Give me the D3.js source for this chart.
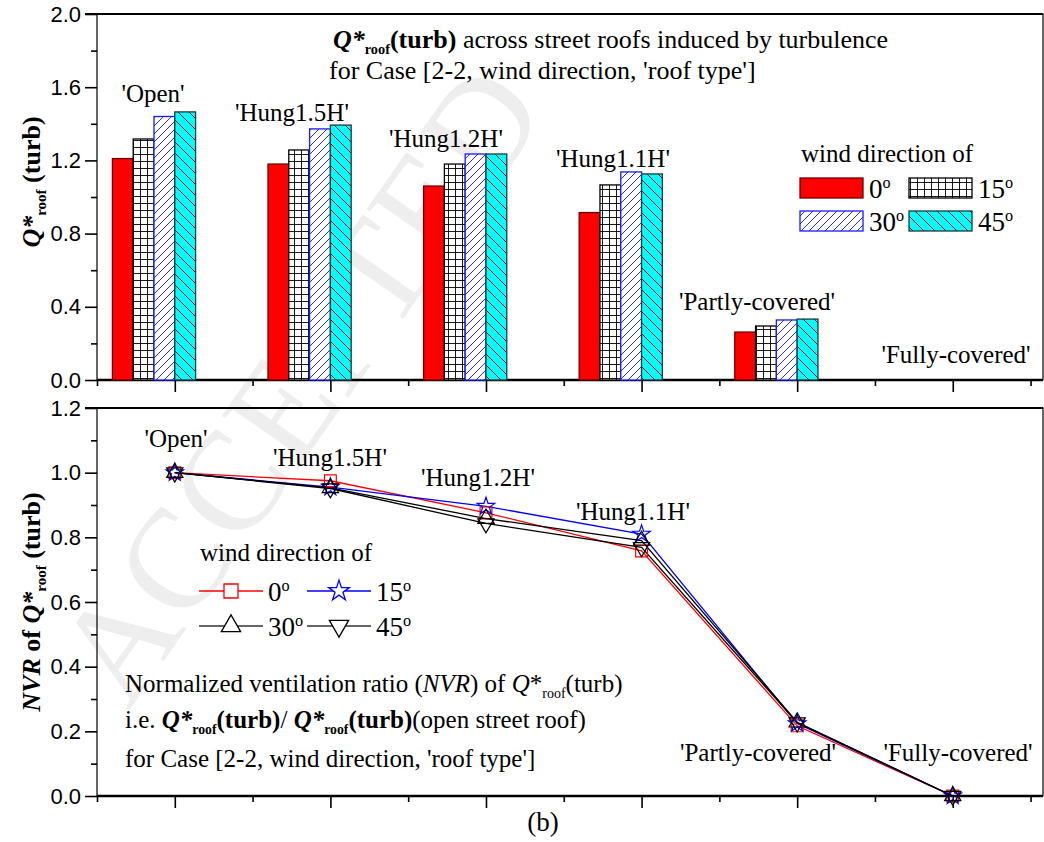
<!DOCTYPE html>
<html>
<head>
<meta charset="utf-8">
<script src="https://cdn.jsdelivr.net/npm/d3@7"></script>
<style>
  body { margin: 0; background: #fff; }
  svg { display: block; }
</style>
</head>
<body>
<div id="chart"></div>
<script>
const width = 1044;
const height = 842;
const serifFont = "'Liberation Serif', 'Times New Roman', serif";
const sansFont = "'Liberation Sans', Arial, sans-serif";

// roof types along the x axis
const roofTypes = ["'Open'", "'Hung1.5H'", "'Hung1.2H'", "'Hung1.1H'", "'Partly-covered'", "'Fully-covered'"];
const windDirections = ['0', '15', '30', '45'];

// Q*roof(turb), top panel
const qTurb0 = [1.21, 1.18, 1.06, 0.915, 0.262, 0];
const qTurb15 = [1.317, 1.257, 1.18, 1.066, 0.295, 0];
const qTurb30 = [1.44, 1.372, 1.235, 1.137, 0.328, 0];
const qTurb45 = [1.465, 1.393, 1.235, 1.126, 0.333, 0];

// NVR of Q*roof(turb), bottom panel
const nvr0 = [1.0, 0.975, 0.876, 0.758, 0.217, 0];
const nvr15 = [1.0, 0.955, 0.896, 0.81, 0.224, 0];
const nvr30 = [1.0, 0.953, 0.858, 0.79, 0.228, 0];
const nvr45 = [1.0, 0.951, 0.843, 0.769, 0.227, 0];

const topTicks = [0.0, 0.4, 0.8, 1.2, 1.6, 2.0];
const bottomTicks = [0.0, 0.2, 0.4, 0.6, 0.8, 1.0, 1.2];

const svg = d3.select('#chart')
  .append('svg')
  .attr('width', width)
  .attr('height', height);

// patterns for the bar fills
const defs = svg.append('defs');

function addPattern(id, size, bg, draw) {
  const p = defs.append('pattern')
    .attr('id', id)
    .attr('patternUnits', 'userSpaceOnUse')
    .attr('width', size)
    .attr('height', size);
  p.append('rect').attr('width', size).attr('height', size).attr('fill', bg);
  draw(p, size);
}

addPattern('grid', 7, '#fff', (p, s) => {
  p.append('path').attr('d', 'M0,0.5H' + s + 'M0.5,0V' + s)
    .attr('stroke', '#000').attr('stroke-width', 0.9).attr('fill', 'none');
});
addPattern('hatchBlue', 8, '#fff', (p, s) => {
  p.append('path').attr('d', 'M0,' + s + 'L' + s + ',0M-2,2L2,-2M' + (s - 2) + ',' + (s + 2) + 'L' + (s + 2) + ',' + (s - 2))
    .attr('stroke', '#2a2aff').attr('stroke-width', 1).attr('fill', 'none');
});
addPattern('hatchCyan', 11, '#00ffff', (p, s) => {
  p.append('path').attr('d', 'M0,0L' + s + ',' + s + 'M-2,' + (s - 2) + 'L2,' + (s + 2) + 'M' + (s - 2) + ',-2L' + (s + 2) + ',2')
    .attr('stroke', '#000').attr('stroke-width', 1).attr('fill', 'none');
});

const barStyles = [
  {fill: '#ff0000', stroke: '#6b0000'},
  {fill: 'url(#grid)', stroke: '#000'},
  {fill: 'url(#hatchBlue)', stroke: '#1a1aff'},
  {fill: 'url(#hatchCyan)', stroke: '#1b3b3b'}
];

const lineStyles = [
  {color: '#ff0000', symbol: d3.symbolSquare, size: 140, rotate: 0},
  {color: '#0000ff', symbol: d3.symbolStar, size: 95, rotate: 0},
  {color: '#000', symbol: d3.symbolTriangle, size: 115, rotate: 0},
  {color: '#000', symbol: d3.symbolTriangle, size: 115, rotate: 180}
];

function serifText(parent, x, y, size) {
  return parent.append('text')
    .attr('x', x).attr('y', y)
    .style('font-family', serifFont)
    .style('font-size', size + 'px');
}

// watermark behind everything
svg.append('text')
  .attr('transform', 'translate(128,712) rotate(-55)')
  .style('font-family', serifFont)
  .style('font-size', '142px')
  .attr('fill', '#eeeeee')
  .text('ACCEPTED');

// shared x scale
const xscale = d3.scaleLinear().domain([0.5, 6.58]).range([97, 1043]);
const majorX = d3.range(1, 7);
const minorX = d3.range(0.5, 7, 1);

function drawFrame(g, yscale, ticks, minorStep) {
  const [y0, y1] = yscale.range();
  const [xl, xr] = xscale.range();
  // frame
  g.append('path')
    .attr('d', 'M' + xl + ',' + y0 + 'V' + y1 + 'H' + xr + 'V' + y0)
    .attr('fill', 'none').attr('stroke', '#000').attr('stroke-width', 1.2);
  g.append('line')
    .attr('x1', xl - 12).attr('x2', xr)
    .attr('y1', y1).attr('y2', y1).attr('stroke', '#000').attr('stroke-width', 2);

  // y axis
  const yaxis = d3.axisLeft(yscale).tickValues(ticks).tickSize(12).tickFormat(d3.format('.1f'));
  const ya = g.append('g')
    .attr('transform', 'translate(' + xl + ',0)')
    .call(yaxis);
  ya.select('.domain').remove();
  ya.selectAll('line').attr('stroke-width', 1.6);
  ya.selectAll('text')
    .style('font-family', sansFont)
    .style('font-size', '22px')
    .attr('dx', -1);

  const minorY = d3.range(yscale.domain()[0] + minorStep, yscale.domain()[1], minorStep * 2);
  g.append('g')
    .attr('transform', 'translate(' + xl + ',0)')
    .call(d3.axisLeft(yscale).tickValues(minorY).tickSize(6).tickFormat(''))
    .call(s => s.select('.domain').remove())
    .selectAll('line').attr('stroke-width', 1.6);

  // x axis, ticks only
  const xg = g.append('g').attr('transform', 'translate(0,' + y0 + ')');
  xg.call(d3.axisBottom(xscale).tickValues(majorX).tickSize(12).tickFormat(''))
    .call(s => s.select('.domain').attr('stroke-width', 2.5).attr('d', 'M' + xl + ',0H' + xr));
  xg.selectAll('line').attr('stroke-width', 1.6);
  g.append('g').attr('transform', 'translate(0,' + y0 + ')')
    .call(d3.axisBottom(xscale).tickValues(minorX).tickSize(6).tickFormat(''))
    .call(s => s.select('.domain').remove())
    .selectAll('line').attr('stroke-width', 1.6);
}

function degreeText(sel, value, size) {
  sel.append('tspan').text(value);
  sel.append('tspan').style('font-size', (size * 0.6) + 'px').attr('dy', -size * 0.38).text('o');
}

// Q*roof(turb) with subscript
function qRoof(sel, size, bold) {
  sel.append('tspan').attr('font-style', 'italic').attr('font-weight', 'bold').text('Q*');
  sel.append('tspan').style('font-size', (size * 0.55) + 'px').attr('dy', size * 0.23)
    .attr('font-weight', bold ? 'bold' : 'normal').text('roof');
  sel.append('tspan').attr('dy', -size * 0.23).attr('font-weight', bold ? 'bold' : 'normal').text('(turb)');
}

// ---------- top panel: bars ----------
const yTop = d3.scaleLinear().domain([0, 2]).range([380, 14]);
const topPanel = svg.append('g');
drawFrame(topPanel, yTop, topTicks, 0.2);

const barWidth = 20.8;
const offset = d3.scaleBand().domain(windDirections).range([-3 * barWidth, barWidth]);
const barSeries = [qTurb0, qTurb15, qTurb30, qTurb45];

roofTypes.forEach((roof, i) => {
  barSeries.forEach((series, k) => {
    const v = series[i];
    if (v <= 0) return;
    topPanel.append('rect')
      .attr('x', xscale(i + 1) + offset(windDirections[k]))
      .attr('y', yTop(v))
      .attr('width', offset.bandwidth())
      .attr('height', yTop(0) - yTop(v))
      .attr('fill', barStyles[k].fill)
      .attr('stroke', barStyles[k].stroke)
      .attr('stroke-width', 1.3);
  });
});

// category labels over the bar groups
const topLabelPos = [[153, 102], [292, 121], [446, 147], [613, 167], [757, 310], [956, 363]];
roofTypes.forEach((roof, i) => {
  serifText(topPanel, topLabelPos[i][0], topLabelPos[i][1], 25)
    .attr('text-anchor', 'middle')
    .text(roof);
});

// title
const t1 = serifText(topPanel, 333, 48, 26);
qRoof(t1, 26, true);
t1.append('tspan').text(' across street roofs induced by turbulence');
serifText(topPanel, 329, 79, 26).text("for Case [2-2, wind direction, 'roof type']");

// legend
serifText(topPanel, 801, 162, 25).text('wind direction of');
const barLegend = [[800, 178], [909, 178], [800, 211], [909, 211]];
windDirections.forEach((w, k) => {
  const [lx, ly] = barLegend[k];
  topPanel.append('rect')
    .attr('x', lx).attr('y', ly).attr('width', 63).attr('height', 20)
    .attr('fill', barStyles[k].fill).attr('stroke', barStyles[k].stroke).attr('stroke-width', 1.3);
  const t = serifText(topPanel, lx + 69, ly + 20, 27);
  degreeText(t, w, 27);
});

// y title
const yt1 = serifText(topPanel, 0, 0, 26)
  .attr('transform', 'translate(40,182) rotate(-90)')
  .attr('text-anchor', 'middle').attr('font-weight', 'bold');
yt1.append('tspan').attr('font-style', 'italic').text('Q*');
yt1.append('tspan').style('font-size', '15px').attr('dy', 6).text('roof');
yt1.append('tspan').attr('dy', -6).text(' (turb)');

// ---------- bottom panel: lines ----------
const yBot = d3.scaleLinear().domain([0, 1.2]).range([796, 408]);
const botPanel = svg.append('g');
drawFrame(botPanel, yBot, bottomTicks, 0.1);

const lineSeries = [nvr0, nvr15, nvr30, nvr45];
const line = d3.line().x((d, i) => xscale(i + 1)).y(d => yBot(d));

lineSeries.forEach((series, k) => {
  botPanel.append('path')
    .datum(series)
    .attr('d', line)
    .attr('fill', 'none')
    .attr('stroke', lineStyles[k].color)
    .attr('stroke-width', 1.3);
});
lineSeries.forEach((series, k) => {
  const st = lineStyles[k];
  botPanel.selectAll(null)
    .data(series)
    .enter()
    .append('path')
    .attr('d', d3.symbol().type(st.symbol).size(st.size))
    .attr('transform', (d, i) => 'translate(' + xscale(i + 1) + ',' + yBot(d) + ') rotate(' + st.rotate + ')')
    .attr('fill', 'none')
    .attr('stroke', st.color)
    .attr('stroke-width', 1.2);
});

const botLabelPos = [[176, 447], [330, 466], [478, 486], [633, 520], [758, 761], [958, 761]];
roofTypes.forEach((roof, i) => {
  serifText(botPanel, botLabelPos[i][0], botLabelPos[i][1], 25)
    .attr('text-anchor', 'middle')
    .text(roof);
});

// legend
serifText(botPanel, 200, 561, 25).text('wind direction of');
const lineLegend = [[199, 591], [307, 591], [199, 626], [307, 626]];
windDirections.forEach((w, k) => {
  const [lx, ly] = lineLegend[k];
  const st = lineStyles[k];
  botPanel.append('line')
    .attr('x1', lx).attr('x2', lx + 64).attr('y1', ly).attr('y2', ly)
    .attr('stroke', k >= 2 ? '#333' : st.color).attr('stroke-width', 1.3);
  botPanel.append('path')
    .attr('d', d3.symbol().type(st.symbol).size(st.size * 1.4))
    .attr('transform', 'translate(' + (lx + 32) + ',' + ly + ') rotate(' + st.rotate + ')')
    .attr('fill', '#fff').attr('stroke', st.color).attr('stroke-width', 1.3);
  const t = serifText(botPanel, lx + 69, ly + 10, 27);
  degreeText(t, w, 27);
});

// annotation
const a1 = serifText(botPanel, 125, 692, 25);
a1.append('tspan').text('Normalized ventilation ratio (');
a1.append('tspan').attr('font-style', 'italic').text('NVR');
a1.append('tspan').text(') of ');
a1.append('tspan').attr('font-style', 'italic').text('Q');
a1.append('tspan').text('*');
a1.append('tspan').style('font-size', '14px').attr('dy', 6).text('roof');
a1.append('tspan').attr('dy', -6).text('(turb)');

const a2 = serifText(botPanel, 125, 728, 25);
a2.append('tspan').text('i.e.  ');
qRoof(a2, 25, true);
a2.append('tspan').text('/ ');
qRoof(a2, 25, true);
a2.append('tspan').text('(open street roof)');

serifText(botPanel, 125, 767, 25).text("for Case [2-2, wind direction, 'roof type']");

// y title
const yt2 = serifText(botPanel, 0, 0, 26)
  .attr('transform', 'translate(40,602) rotate(-90)')
  .attr('text-anchor', 'middle').attr('font-weight', 'bold');
yt2.append('tspan').attr('font-style', 'italic').text('NVR');
yt2.append('tspan').text(' of ');
yt2.append('tspan').attr('font-style', 'italic').text('Q*');
yt2.append('tspan').style('font-size', '15px').attr('dy', 6).text('roof');
yt2.append('tspan').attr('dy', -6).text(' (turb)');

// panel caption
serifText(svg, 543, 831, 27).attr('text-anchor', 'middle').text('(b)');
</script>
</body>
</html>
